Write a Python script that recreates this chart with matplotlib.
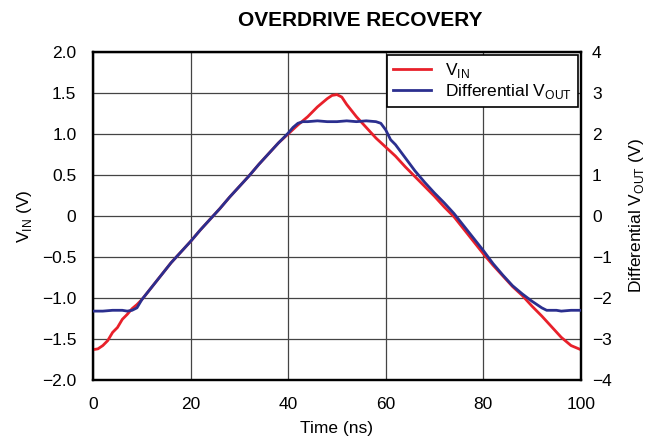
import numpy as np
import matplotlib
matplotlib.use("Agg")
import matplotlib.pyplot as plt

plt.rcParams['font.family'] = ['Liberation Sans', 'DejaVu Sans']

# V_IN (left axis, V)
t_in = [0, 1, 2, 3, 4, 5, 6, 7, 8, 9, 10, 12, 14, 16, 18, 20, 22, 24, 26, 28,
        30, 32, 34, 36, 38, 40, 42, 44, 46, 48, 49, 50, 51, 52, 54, 56, 58, 60,
        62, 64, 66, 68, 70, 72, 74, 76, 78, 80, 82, 84, 86, 88, 90, 92, 94, 96,
        98, 100]
v_in = [-1.63, -1.62, -1.58, -1.52, -1.42, -1.36, -1.26, -1.20, -1.13, -1.08,
        -1.02, -0.87, -0.72, -0.57, -0.44, -0.31, -0.17, -0.04, 0.09, 0.23,
        0.36, 0.49, 0.63, 0.76, 0.89, 1.00, 1.11, 1.21, 1.33, 1.43, 1.47, 1.48,
        1.45, 1.36, 1.21, 1.08, 0.95, 0.84, 0.73, 0.60, 0.48, 0.36, 0.24, 0.11,
        -0.01, -0.16, -0.31, -0.46, -0.60, -0.73, -0.86, -0.97, -1.10, -1.22,
        -1.35, -1.48, -1.58, -1.63]

# Differential V_OUT (right axis, V)
t_out = [0, 2, 4, 6, 7, 8, 9, 10, 12, 14, 16, 18, 20, 22, 24, 26, 28, 30, 32,
         34, 36, 38, 40, 41, 42, 43, 44, 46, 48, 50, 52, 54, 56, 58, 59, 60, 61,
         62, 64, 66, 68, 70, 72, 74, 76, 78, 80, 82, 84, 86, 88, 90, 91, 92, 93,
         95, 96, 98, 100]
v_out = [-2.32, -2.32, -2.30, -2.30, -2.32, -2.30, -2.24, -2.04, -1.74, -1.44,
         -1.14, -0.88, -0.62, -0.34, -0.08, 0.18, 0.46, 0.72, 0.98, 1.26, 1.52,
         1.78, 2.02, 2.16, 2.26, 2.30, 2.30, 2.32, 2.30, 2.30, 2.32, 2.30, 2.32,
         2.30, 2.26, 2.10, 1.86, 1.74, 1.42, 1.10, 0.82, 0.56, 0.32, 0.06, -0.24,
         -0.54, -0.84, -1.16, -1.44, -1.70, -1.90, -2.08, -2.16, -2.24, -2.30,
         -2.30, -2.32, -2.30, -2.30]

red = '#e8202a'
blue = '#2b2f8f'

fig = plt.figure(figsize=(6.6, 4.38), dpi=100)
ax = fig.add_axes([0.141, 0.1324, 0.739, 0.749])
ax2 = ax.twinx()

l1, = ax.plot(t_in, v_in, color=red, lw=2, label='V$_\\mathregular{IN}$', zorder=3)
l2, = ax2.plot(t_out, v_out, color=blue, lw=2, label='Differential V$_\\mathregular{OUT}$', zorder=3)

ax.set_xlim(0, 100)
ax.set_ylim(-2, 2)
ax2.set_ylim(-4, 4)
ax.set_xticks([0, 20, 40, 60, 80, 100])
ax.set_yticks(np.arange(-2, 2.01, 0.5))
ax.set_yticklabels(['\u22122.0', '\u22121.5', '\u22121.0', '\u22120.5', '0',
                    '0.5', '1.0', '1.5', '2.0'])
ax2.set_yticks(range(-4, 5))
ax2.set_yticklabels(['\u22124', '\u22123', '\u22122', '\u22121', '0', '1', '2', '3', '4'])

ax.grid(True, color='#444444', lw=0.9)
ax.tick_params(axis='y', direction='in', length=0, labelsize=12.5, pad=12)
ax.tick_params(axis='x', direction='in', length=0, labelsize=12.5, pad=12)
ax2.tick_params(direction='in', length=0, labelsize=12.5, pad=8)
for a in (ax, ax2):
    for s in a.spines.values():
        s.set_linewidth(1.6)
        s.set_color('black')

ax.set_xlabel('Time (ns)', fontsize=12.5, labelpad=7)
ax.set_ylabel('V$_\\mathregular{IN}$ (V)', fontsize=12.5, labelpad=6)
ax2.set_ylabel('Differential V$_\\mathregular{OUT}$ (V)', fontsize=12.5, labelpad=11)
ax.set_title('OVERDRIVE RECOVERY', fontsize=15, fontweight='bold', pad=19, x=0.548)

leg = ax2.legend(handles=[l1, l2], loc='upper right', bbox_to_anchor=(1.0, 1.0),
                 fontsize=12.5, frameon=True, fancybox=False, borderaxespad=0.15,
                 handlelength=2.2, labelspacing=0.15, borderpad=0.35)
leg.get_frame().set_edgecolor('black')
leg.get_frame().set_linewidth(1.2)
leg.get_frame().set_alpha(1)

fig.savefig('out.png', dpi=100)
